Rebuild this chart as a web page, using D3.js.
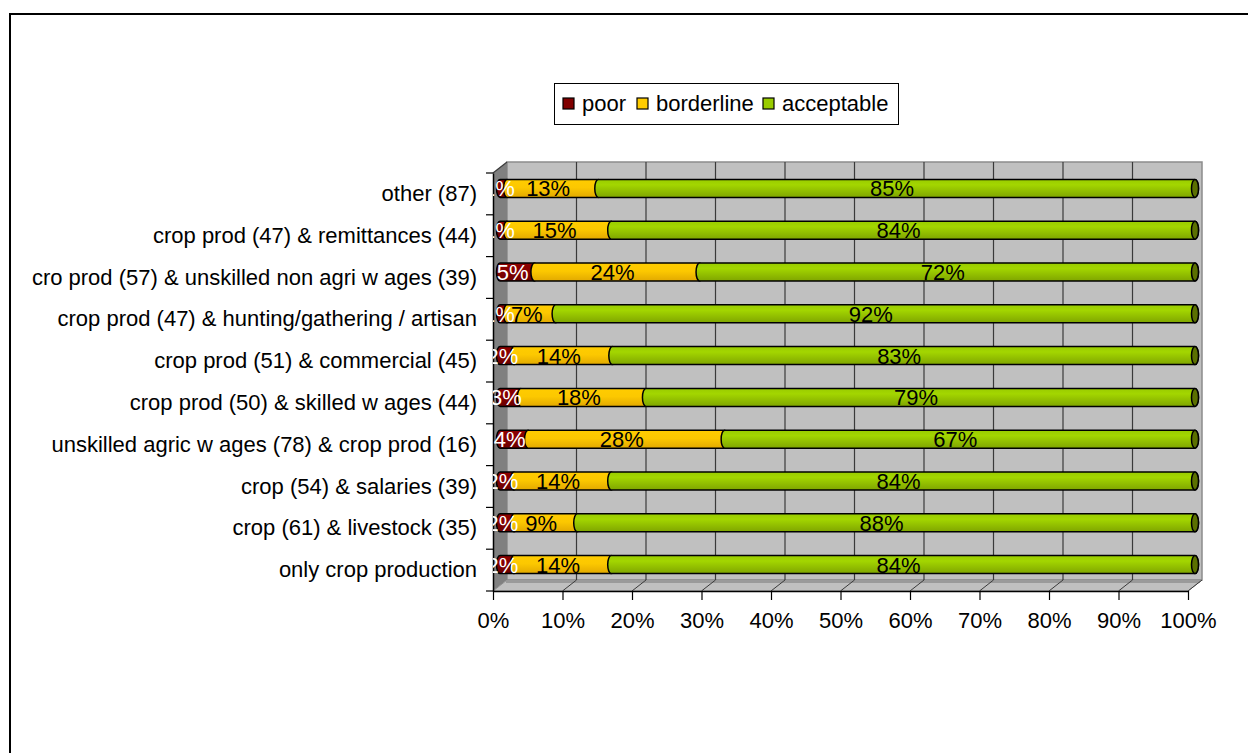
<!DOCTYPE html>
<html>
<head>
<meta charset="utf-8">
<script src="https://cdn.jsdelivr.net/npm/d3@7"></script>
<style>
  html, body { margin: 0; padding: 0; background: #fff; }
  svg { display: block; }
  text { font-family: "Liberation Sans", Arial, sans-serif; }
</style>
</head>
<body>
<svg id="chart" width="1248" height="753"></svg>
<script>
// ---- data (top to bottom) ----
const categories = [
  "other (87)",
  "crop prod (47) & remittances (44)",
  "cro prod (57) & unskilled non agri w ages (39)",
  "crop prod (47) & hunting/gathering / artisan",
  "crop prod (51) & commercial (45)",
  "crop prod (50) & skilled w ages (44)",
  "unskilled agric w ages (78) & crop prod (16)",
  "crop (54) & salaries (39)",
  "crop (61) & livestock (35)",
  "only crop production"
];
const seriesNames = ["poor", "borderline", "acceptable"];
const poor       = [1, 1, 5, 1, 2, 3, 4, 2, 2, 2];
const borderline = [13, 15, 24, 7, 14, 18, 28, 14, 9, 14];
const acceptable = [85, 84, 72, 92, 83, 79, 67, 84, 88, 84];
const xTicks = [0, 0.1, 0.2, 0.3, 0.4, 0.5, 0.6, 0.7, 0.8, 0.9, 1];

const rows = categories.map((c, i) => ({
  category: c, poor: poor[i], borderline: borderline[i], acceptable: acceptable[i]
}));

// ---- layout ----
const X0 = 493, W = 695, Y0 = 173, H = 418;
const DX = 14, DY = -11;
const font = 22;

const svg = d3.select("#chart");
const defs = svg.append("defs");

function grad(id, stops) {
  const g = defs.append("linearGradient").attr("id", id)
    .attr("x1", 0).attr("y1", 0).attr("x2", 0).attr("y2", 1);
  stops.forEach(s => g.append("stop").attr("offset", s[0]).attr("stop-color", s[1]));
}
grad("g-poor", [[0, "#8c0000"], [0.4, "#860000"], [1, "#6a0000"]]);
grad("g-border", [[0, "#ffcc00"], [0.45, "#fcc800"], [1, "#e2a900"]]);
grad("g-accept", [[0, "#99cc00"], [0.3, "#a3d600"], [1, "#7fa500"]]);
const fills = { poor: "url(#g-poor)", borderline: "url(#g-border)", acceptable: "url(#g-accept)" };
const legendColors = { poor: "#800000", borderline: "#ffcc00", acceptable: "#99cc00" };

defs.append("clipPath").attr("id", "labclip").append("rect")
  .attr("x", X0).attr("y", 0).attr("width", 800).attr("height", 753);

// outer frame
svg.append("rect").attr("x", 10).attr("y", 14).attr("width", 1400).attr("height", 900)
  .attr("fill", "none").attr("stroke", "#000").attr("stroke-width", 2);

const x = d3.scaleLinear().domain([0, 1]).range([X0, X0 + W]);
const y = d3.scaleBand().domain(categories).range([Y0, Y0 + H]);

// back wall
svg.append("rect").attr("x", x(0) + DX).attr("y", Y0 + DY)
  .attr("width", W).attr("height", H)
  .attr("fill", "#c0c0c0").attr("stroke", "#8c8c8c").attr("stroke-width", 1.5);
// left wall
svg.append("polygon")
  .attr("points", [[X0, Y0], [X0 + DX, Y0 + DY], [X0 + DX, Y0 + H + DY], [X0, Y0 + H]].map(p => p.join(",")).join(" "))
  .attr("fill", "#808080");
// floor
svg.append("polygon")
  .attr("points", [[X0, Y0 + H], [X0 + W, Y0 + H], [X0 + W + DX, Y0 + H + DY], [X0 + DX, Y0 + H + DY]].map(p => p.join(",")).join(" "))
  .attr("fill", "#c0c0c0").attr("stroke", "#8c8c8c").attr("stroke-width", 1);
svg.append("line").attr("x1", X0 + DX - 1).attr("x2", X0 + W + DX - 2)
  .attr("y1", Y0 + H + DY + 1.5).attr("y2", Y0 + H + DY + 1.5)
  .attr("stroke", "#9a9a9a").attr("stroke-width", 3);

// gridlines on back wall and floor
svg.append("g").selectAll("line").data(xTicks.slice(1, -1)).join("line")
  .attr("x1", d => x(d) + DX).attr("x2", d => x(d) + DX)
  .attr("y1", Y0 + DY).attr("y2", Y0 + H + DY)
  .attr("stroke", "#3a3a3a").attr("stroke-width", 1.2);
svg.append("g").selectAll("line").data(xTicks.slice(1)).join("line")
  .attr("x1", d => x(d)).attr("x2", d => x(d) + DX)
  .attr("y1", Y0 + H).attr("y2", Y0 + H + DY)
  .attr("stroke", "#3a3a3a").attr("stroke-width", 1);
// top edge of left wall
svg.append("line").attr("x1", X0).attr("y1", Y0).attr("x2", X0 + DX).attr("y2", Y0 + DY)
  .attr("stroke", "#3a3a3a").attr("stroke-width", 1.2);

// ---- axes ----
const yAxis = d3.axisLeft(y).tickSize(0).tickPadding(16);
const gy = svg.append("g").attr("transform", `translate(${X0},0)`).call(yAxis);
gy.select(".domain").attr("stroke", "#000").attr("stroke-width", 1.5);
gy.selectAll("text").attr("font-size", font).attr("fill", "#000")
  .attr("font-family", "'Liberation Sans', Arial, sans-serif");
// category boundary ticks
const bounds = categories.map(c => y(c)).concat([Y0 + H]);
svg.append("g").selectAll("line").data(bounds).join("line")
  .attr("x1", X0 - 7).attr("x2", X0).attr("y1", d => d).attr("y2", d => d)
  .attr("stroke", "#000").attr("stroke-width", 1.2);

const xAxis = d3.axisBottom(x).tickValues(xTicks).tickFormat(d3.format(".0%"))
  .tickSize(9).tickSizeOuter(0).tickPadding(12);
const gx = svg.append("g").attr("transform", `translate(0,${Y0 + H})`).call(xAxis);
gx.select(".domain").attr("stroke", "#000").attr("stroke-width", 1.5);
gx.selectAll(".tick line").attr("stroke", "#000").attr("stroke-width", 1.2);
gx.selectAll("text").attr("font-size", font).attr("fill", "#000")
  .attr("font-family", "'Liberation Sans', Arial, sans-serif");

// ---- bars ----
const stack = d3.stack().keys(seriesNames).offset(d3.stackOffsetExpand);
const layers = stack(rows);
const hh = 9, rx = 3.5;
const bx = v => x(v) + DX / 2;
const by = c => y(c) + y.bandwidth() / 2 + DY / 2;

function segPath(x0, x1, yc) {
  return `M${x0},${yc - hh} L${x1},${yc - hh} A${rx},${hh} 0 0 1 ${x1},${yc + hh} ` +
         `L${x0},${yc + hh} A${rx},${hh} 0 0 1 ${x0},${yc - hh} Z`;
}

const barG = svg.append("g");
rows.forEach((r, i) => {
  const yc = by(r.category);
  layers.forEach(layer => {
    const d = layer[i];
    barG.append("path")
      .attr("d", segPath(bx(d[0]), bx(d[1]), yc))
      .attr("fill", fills[layer.key])
      .attr("stroke", "#000").attr("stroke-width", 1.5);
  });
  const last = layers[layers.length - 1][i];
  barG.append("ellipse").attr("cx", bx(last[1])).attr("cy", yc)
    .attr("rx", rx).attr("ry", hh)
    .attr("fill", "#5b7000").attr("stroke", "#000").attr("stroke-width", 1.5);
});

// labels
const labG = svg.append("g").attr("clip-path", "url(#labclip)");
rows.forEach((r, i) => {
  const yc = by(r.category);
  layers.forEach(layer => {
    const d = layer[i];
    labG.append("text")
      .attr("x", (bx(d[0]) + bx(d[1])) / 2 - 4.5)
      .attr("y", yc).attr("dy", "0.36em")
      .attr("text-anchor", "middle")
      .attr("font-size", font)
      .attr("fill", layer.key === "poor" ? "#fff" : "#000")
      .text(r[layer.key] + "%");
  });
});

// ---- legend ----
const lg = svg.append("g");
lg.append("rect").attr("x", 554.5).attr("y", 83.5).attr("width", 344).attr("height", 41)
  .attr("fill", "#fff").attr("stroke", "#000").attr("stroke-width", 1);
const legendX = [563, 637, 763];
seriesNames.forEach((s, i) => {
  lg.append("rect").attr("x", legendX[i]).attr("y", 98).attr("width", 11).attr("height", 11)
    .attr("fill", legendColors[s]).attr("stroke", "#000").attr("stroke-width", 1.2);
  lg.append("text").attr("x", legendX[i] + 19).attr("y", 111)
    .attr("font-size", font).attr("fill", "#000").text(s);
});
</script>
</body>
</html>
